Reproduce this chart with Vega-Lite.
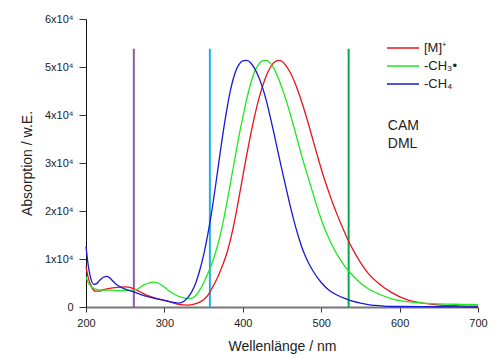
{
  "$schema": "https://vega.github.io/schema/vega-lite/v6.json",
  "autosize": {"type": "none"},
  "padding": {"left": 86, "top": 19, "right": 17, "bottom": 49},
  "width": 392,
  "height": 288,
  "background": "white",
  "config": {
    "view": {"stroke": null},
    "font": "Liberation Sans",
    "axis": {"grid": false, "labelColor": "#222", "titleColor": "#222", "labelFontSize": 11, "titleFontSize": 14, "titleFontWeight": "normal", "tickColor": "#333", "domainColor": "#333"}
  },
  "datasets": {
    "spectra": [
      {"w": 200, "A": 0.84, "s": "[M]⁺"}, {"w": 203, "A": 0.6, "s": "[M]⁺"}, {"w": 207, "A": 0.42, "s": "[M]⁺"}, {"w": 212, "A": 0.33, "s": "[M]⁺"}, {"w": 217, "A": 0.33, "s": "[M]⁺"}, {"w": 222, "A": 0.36, "s": "[M]⁺"}, {"w": 230, "A": 0.39, "s": "[M]⁺"}, {"w": 240, "A": 0.41, "s": "[M]⁺"}, {"w": 250, "A": 0.42, "s": "[M]⁺"}, {"w": 258, "A": 0.4, "s": "[M]⁺"}, {"w": 265, "A": 0.35, "s": "[M]⁺"}, {"w": 272, "A": 0.29, "s": "[M]⁺"}, {"w": 280, "A": 0.23, "s": "[M]⁺"}, {"w": 290, "A": 0.18, "s": "[M]⁺"}, {"w": 300, "A": 0.14, "s": "[M]⁺"}, {"w": 310, "A": 0.09, "s": "[M]⁺"}, {"w": 320, "A": 0.05, "s": "[M]⁺"}, {"w": 329, "A": 0.04, "s": "[M]⁺"}, {"w": 338, "A": 0.06, "s": "[M]⁺"}, {"w": 345, "A": 0.1, "s": "[M]⁺"}, {"w": 350, "A": 0.15, "s": "[M]⁺"}, {"w": 357, "A": 0.28, "s": "[M]⁺"}, {"w": 360, "A": 0.37, "s": "[M]⁺"}, {"w": 365, "A": 0.52, "s": "[M]⁺"}, {"w": 370, "A": 0.7, "s": "[M]⁺"}, {"w": 375, "A": 0.9, "s": "[M]⁺"}, {"w": 380, "A": 1.14, "s": "[M]⁺"}, {"w": 385, "A": 1.45, "s": "[M]⁺"}, {"w": 390, "A": 1.83, "s": "[M]⁺"}, {"w": 395, "A": 2.27, "s": "[M]⁺"}, {"w": 400, "A": 2.72, "s": "[M]⁺"}, {"w": 405, "A": 3.17, "s": "[M]⁺"}, {"w": 410, "A": 3.59, "s": "[M]⁺"}, {"w": 415, "A": 3.97, "s": "[M]⁺"}, {"w": 420, "A": 4.31, "s": "[M]⁺"}, {"w": 425, "A": 4.59, "s": "[M]⁺"}, {"w": 430, "A": 4.82, "s": "[M]⁺"}, {"w": 435, "A": 4.99, "s": "[M]⁺"}, {"w": 440, "A": 5.1, "s": "[M]⁺"}, {"w": 446, "A": 5.14, "s": "[M]⁺"}, {"w": 450, "A": 5.12, "s": "[M]⁺"}, {"w": 455, "A": 5.03, "s": "[M]⁺"}, {"w": 460, "A": 4.9, "s": "[M]⁺"}, {"w": 465, "A": 4.73, "s": "[M]⁺"}, {"w": 470, "A": 4.52, "s": "[M]⁺"}, {"w": 475, "A": 4.28, "s": "[M]⁺"}, {"w": 480, "A": 4.02, "s": "[M]⁺"}, {"w": 485, "A": 3.74, "s": "[M]⁺"}, {"w": 490, "A": 3.45, "s": "[M]⁺"}, {"w": 495, "A": 3.16, "s": "[M]⁺"}, {"w": 500, "A": 2.88, "s": "[M]⁺"}, {"w": 505, "A": 2.62, "s": "[M]⁺"}, {"w": 510, "A": 2.38, "s": "[M]⁺"}, {"w": 515, "A": 2.15, "s": "[M]⁺"}, {"w": 520, "A": 1.94, "s": "[M]⁺"}, {"w": 525, "A": 1.74, "s": "[M]⁺"}, {"w": 530, "A": 1.55, "s": "[M]⁺"}, {"w": 535, "A": 1.37, "s": "[M]⁺"}, {"w": 540, "A": 1.21, "s": "[M]⁺"}, {"w": 550, "A": 0.93, "s": "[M]⁺"}, {"w": 560, "A": 0.7, "s": "[M]⁺"}, {"w": 575, "A": 0.47, "s": "[M]⁺"}, {"w": 590, "A": 0.3, "s": "[M]⁺"}, {"w": 610, "A": 0.15, "s": "[M]⁺"}, {"w": 630, "A": 0.08, "s": "[M]⁺"}, {"w": 652, "A": 0.04, "s": "[M]⁺"}, {"w": 675, "A": 0.025, "s": "[M]⁺"}, {"w": 700, "A": 0.02, "s": "[M]⁺"},

      {"w": 200, "A": 0.63, "s": "-CH₃•"}, {"w": 203, "A": 0.5, "s": "-CH₃•"}, {"w": 207, "A": 0.42, "s": "-CH₃•"}, {"w": 212, "A": 0.37, "s": "-CH₃•"}, {"w": 220, "A": 0.35, "s": "-CH₃•"}, {"w": 230, "A": 0.35, "s": "-CH₃•"}, {"w": 240, "A": 0.34, "s": "-CH₃•"}, {"w": 250, "A": 0.34, "s": "-CH₃•"}, {"w": 260, "A": 0.35, "s": "-CH₃•"}, {"w": 265, "A": 0.37, "s": "-CH₃•"}, {"w": 270, "A": 0.42, "s": "-CH₃•"}, {"w": 275, "A": 0.47, "s": "-CH₃•"}, {"w": 280, "A": 0.5, "s": "-CH₃•"}, {"w": 286, "A": 0.52, "s": "-CH₃•"}, {"w": 292, "A": 0.5, "s": "-CH₃•"}, {"w": 298, "A": 0.44, "s": "-CH₃•"}, {"w": 305, "A": 0.35, "s": "-CH₃•"}, {"w": 312, "A": 0.27, "s": "-CH₃•"}, {"w": 320, "A": 0.21, "s": "-CH₃•"}, {"w": 328, "A": 0.18, "s": "-CH₃•"}, {"w": 334, "A": 0.18, "s": "-CH₃•"}, {"w": 340, "A": 0.24, "s": "-CH₃•"}, {"w": 345, "A": 0.35, "s": "-CH₃•"}, {"w": 350, "A": 0.5, "s": "-CH₃•"}, {"w": 355, "A": 0.68, "s": "-CH₃•"}, {"w": 360, "A": 0.88, "s": "-CH₃•"}, {"w": 365, "A": 1.12, "s": "-CH₃•"}, {"w": 370, "A": 1.42, "s": "-CH₃•"}, {"w": 375, "A": 1.78, "s": "-CH₃•"}, {"w": 380, "A": 2.2, "s": "-CH₃•"}, {"w": 385, "A": 2.65, "s": "-CH₃•"}, {"w": 390, "A": 3.1, "s": "-CH₃•"}, {"w": 395, "A": 3.55, "s": "-CH₃•"}, {"w": 400, "A": 3.95, "s": "-CH₃•"}, {"w": 405, "A": 4.33, "s": "-CH₃•"}, {"w": 410, "A": 4.65, "s": "-CH₃•"}, {"w": 415, "A": 4.9, "s": "-CH₃•"}, {"w": 420, "A": 5.05, "s": "-CH₃•"}, {"w": 425, "A": 5.13, "s": "-CH₃•"}, {"w": 430, "A": 5.14, "s": "-CH₃•"}, {"w": 435, "A": 5.08, "s": "-CH₃•"}, {"w": 440, "A": 4.96, "s": "-CH₃•"}, {"w": 445, "A": 4.78, "s": "-CH₃•"}, {"w": 450, "A": 4.56, "s": "-CH₃•"}, {"w": 455, "A": 4.32, "s": "-CH₃•"}, {"w": 460, "A": 4.05, "s": "-CH₃•"}, {"w": 465, "A": 3.76, "s": "-CH₃•"}, {"w": 470, "A": 3.46, "s": "-CH₃•"}, {"w": 475, "A": 3.16, "s": "-CH₃•"}, {"w": 480, "A": 2.88, "s": "-CH₃•"}, {"w": 485, "A": 2.61, "s": "-CH₃•"}, {"w": 490, "A": 2.34, "s": "-CH₃•"}, {"w": 495, "A": 2.07, "s": "-CH₃•"}, {"w": 500, "A": 1.83, "s": "-CH₃•"}, {"w": 505, "A": 1.61, "s": "-CH₃•"}, {"w": 510, "A": 1.42, "s": "-CH₃•"}, {"w": 515, "A": 1.25, "s": "-CH₃•"}, {"w": 520, "A": 1.1, "s": "-CH₃•"}, {"w": 525, "A": 0.97, "s": "-CH₃•"}, {"w": 530, "A": 0.85, "s": "-CH₃•"}, {"w": 535, "A": 0.75, "s": "-CH₃•"}, {"w": 540, "A": 0.66, "s": "-CH₃•"}, {"w": 550, "A": 0.5, "s": "-CH₃•"}, {"w": 560, "A": 0.38, "s": "-CH₃•"}, {"w": 575, "A": 0.26, "s": "-CH₃•"}, {"w": 590, "A": 0.17, "s": "-CH₃•"}, {"w": 610, "A": 0.11, "s": "-CH₃•"}, {"w": 630, "A": 0.08, "s": "-CH₃•"}, {"w": 650, "A": 0.065, "s": "-CH₃•"}, {"w": 680, "A": 0.055, "s": "-CH₃•"}, {"w": 700, "A": 0.05, "s": "-CH₃•"},

      {"w": 200, "A": 1.26, "s": "-CH₄"}, {"w": 203, "A": 0.85, "s": "-CH₄"}, {"w": 206, "A": 0.6, "s": "-CH₄"}, {"w": 210, "A": 0.47, "s": "-CH₄"}, {"w": 213, "A": 0.48, "s": "-CH₄"}, {"w": 217, "A": 0.55, "s": "-CH₄"}, {"w": 222, "A": 0.62, "s": "-CH₄"}, {"w": 227, "A": 0.64, "s": "-CH₄"}, {"w": 232, "A": 0.58, "s": "-CH₄"}, {"w": 238, "A": 0.48, "s": "-CH₄"}, {"w": 245, "A": 0.41, "s": "-CH₄"}, {"w": 252, "A": 0.36, "s": "-CH₄"}, {"w": 260, "A": 0.32, "s": "-CH₄"}, {"w": 270, "A": 0.26, "s": "-CH₄"}, {"w": 280, "A": 0.21, "s": "-CH₄"}, {"w": 290, "A": 0.17, "s": "-CH₄"}, {"w": 300, "A": 0.14, "s": "-CH₄"}, {"w": 310, "A": 0.1, "s": "-CH₄"}, {"w": 318, "A": 0.08, "s": "-CH₄"}, {"w": 325, "A": 0.12, "s": "-CH₄"}, {"w": 330, "A": 0.2, "s": "-CH₄"}, {"w": 335, "A": 0.32, "s": "-CH₄"}, {"w": 340, "A": 0.5, "s": "-CH₄"}, {"w": 345, "A": 0.76, "s": "-CH₄"}, {"w": 350, "A": 1.08, "s": "-CH₄"}, {"w": 355, "A": 1.48, "s": "-CH₄"}, {"w": 360, "A": 1.95, "s": "-CH₄"}, {"w": 365, "A": 2.5, "s": "-CH₄"}, {"w": 370, "A": 3.08, "s": "-CH₄"}, {"w": 375, "A": 3.65, "s": "-CH₄"}, {"w": 380, "A": 4.15, "s": "-CH₄"}, {"w": 385, "A": 4.57, "s": "-CH₄"}, {"w": 390, "A": 4.87, "s": "-CH₄"}, {"w": 395, "A": 5.05, "s": "-CH₄"}, {"w": 400, "A": 5.13, "s": "-CH₄"}, {"w": 405, "A": 5.14, "s": "-CH₄"}, {"w": 410, "A": 5.09, "s": "-CH₄"}, {"w": 415, "A": 4.97, "s": "-CH₄"}, {"w": 420, "A": 4.8, "s": "-CH₄"}, {"w": 425, "A": 4.58, "s": "-CH₄"}, {"w": 430, "A": 4.3, "s": "-CH₄"}, {"w": 435, "A": 3.96, "s": "-CH₄"}, {"w": 440, "A": 3.6, "s": "-CH₄"}, {"w": 445, "A": 3.22, "s": "-CH₄"}, {"w": 450, "A": 2.85, "s": "-CH₄"}, {"w": 455, "A": 2.49, "s": "-CH₄"}, {"w": 460, "A": 2.14, "s": "-CH₄"}, {"w": 465, "A": 1.81, "s": "-CH₄"}, {"w": 470, "A": 1.52, "s": "-CH₄"}, {"w": 475, "A": 1.26, "s": "-CH₄"}, {"w": 480, "A": 1.05, "s": "-CH₄"}, {"w": 485, "A": 0.88, "s": "-CH₄"}, {"w": 490, "A": 0.74, "s": "-CH₄"}, {"w": 500, "A": 0.51, "s": "-CH₄"}, {"w": 510, "A": 0.35, "s": "-CH₄"}, {"w": 520, "A": 0.25, "s": "-CH₄"}, {"w": 530, "A": 0.18, "s": "-CH₄"}, {"w": 540, "A": 0.12, "s": "-CH₄"}, {"w": 550, "A": 0.08, "s": "-CH₄"}, {"w": 560, "A": 0.05, "s": "-CH₄"}, {"w": 580, "A": 0.02, "s": "-CH₄"}, {"w": 600, "A": 0.01, "s": "-CH₄"}, {"w": 650, "A": 0.005, "s": "-CH₄"}, {"w": 700, "A": 0.0, "s": "-CH₄"}
    ],
    "lasers": [
      {"w": 261, "top": 5.38, "laser": "261 nm"},
      {"w": 358, "top": 5.38, "laser": "358 nm"},
      {"w": 535, "top": 5.38, "laser": "535 nm"}
    ],
    "notes": [
      {"label": "CAM\nDML"}
    ]
  },
  "layer": [
    {
      "data": {"name": "lasers"},
      "mark": {"type": "rule", "strokeWidth": 2},
      "encoding": {
        "x": {"field": "w", "type": "quantitative", "scale": {"domain": [200, 700], "nice": false}},
        "y": {"field": "top", "type": "quantitative", "scale": {"domain": [0, 6], "nice": false}},
        "y2": {"datum": 0},
        "color": {"field": "laser", "type": "nominal", "legend": null, "scale": {"domain": ["261 nm", "358 nm", "535 nm"], "range": ["#8e5aa8", "#1fb0e6", "#0aa84c"]}}
      }
    },
    {
      "data": {"name": "spectra"},
      "mark": {"type": "line", "interpolate": "monotone", "strokeWidth": 1.3},
      "encoding": {
        "x": {"field": "w", "type": "quantitative", "scale": {"domain": [200, 700], "nice": false},
          "axis": {"title": "Wellenlänge / nm", "values": [200, 250, 300, 350, 400, 450, 500, 550, 600, 650, 700],
            "labelExpr": "datum.value % 100 == 0 ? datum.value : ''", "domainColor": "#777", "domainWidth": 2,
            "tickSize": {"condition": {"test": "datum.value % 100 == 0", "value": 5}, "value": 4}, "labelPadding": 5, "titlePadding": 11, "labelFlush": false}},
        "y": {"field": "A", "type": "quantitative", "scale": {"domain": [0, 6], "nice": false},
          "axis": {"title": "Absorption / w.E.", "values": [0, 0.5, 1, 1.5, 2, 2.5, 3, 3.5, 4, 4.5, 5, 5.5, 6],
            "labelExpr": "datum.value == 0 ? '0' : (datum.value % 1 == 0 ? datum.value + 'x10⁴' : '')", "domainColor": "#111",
            "tickSize": {"condition": {"test": "datum.value % 1 == 0", "value": 7}, "value": 5}, "labelPadding": 6, "titlePadding": 10, "labelFlush": false}},
        "color": {"field": "s", "type": "nominal",
          "scale": {"domain": ["[M]⁺", "-CH₃•", "-CH₄"], "range": ["#e8141c", "#1ee81e", "#1a1ad2"]},
          "legend": {"title": null, "orient": "none", "legendX": 300, "legendY": 20, "symbolType": "M-1,0H3", "symbolSize": 256, "symbolStrokeWidth": 1.5, "labelFontSize": 13, "labelColor": "#222", "rowPadding": 2, "labelOffset": 20}
        }
      }
    },
    {
      "data": {"name": "notes"},
      "mark": {"type": "text", "align": "left", "baseline": "alphabetic", "fontSize": 14, "color": "#222", "lineBreak": "\n", "lineHeight": 18},
      "encoding": {
        "text": {"field": "label"},
        "x": {"datum": 585},
        "y": {"datum": 3.69}
      }
    }
  ],
  "resolve": {"scale": {"color": "independent"}}
}
